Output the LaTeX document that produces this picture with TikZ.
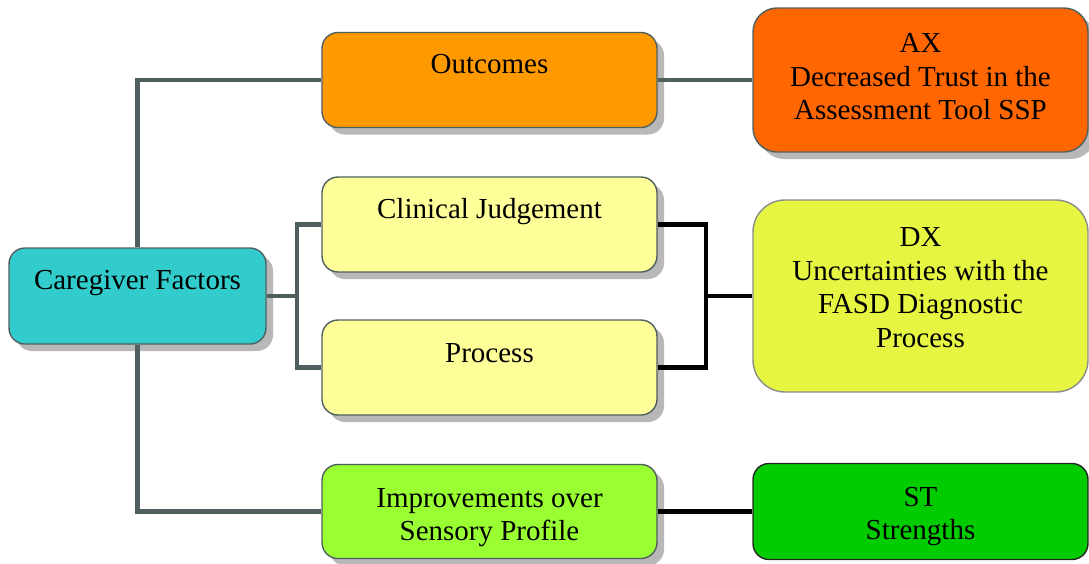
\documentclass[tikz,border=0pt]{standalone}
\usepackage{fontspec}
\setmainfont{Liberation Serif}
\usetikzlibrary{shadows}
\definecolor{linegrey}{HTML}{4F5F5F}
\definecolor{cteal}{HTML}{33CCCC}
\definecolor{corange}{HTML}{FF9900}
\definecolor{cdorange}{HTML}{FF6600}
\definecolor{cpale}{HTML}{FFFF99}
\definecolor{clime}{HTML}{E5F542}
\definecolor{cgreenl}{HTML}{99FF33}
\definecolor{cgreen}{HTML}{00CC00}
\tikzset{
  box/.style={rounded corners=16pt, draw=linegrey, line width=1.4pt, inner sep=0pt},
  shad/.style={drop shadow={shadow xshift=7pt, shadow yshift=-7pt, fill=black!28, opacity=1}},
  txt/.style={anchor=north, inner sep=0pt, align=center, font=\fontsize{29}{33.5}\selectfont},
  gconn/.style={draw=linegrey, line width=4.5pt},
  bconn/.style={draw=black, line width=4.5pt},
}
\begin{document}
\begin{tikzpicture}[x=1pt,y=-1pt]
\useasboundingbox (0,0) rectangle (1089,563);
\begin{scope}
\clip (0,0) rectangle (1089,563);
% boxes
\node[box, shad, fill=cteal, minimum width=257pt, minimum height=96pt] (cg) at (137.5,296) {};
\node[box, shad, fill=corange, minimum width=335pt, minimum height=95pt] (out) at (489.5,80) {};
\node[box, shad, fill=cpale, minimum width=335pt, minimum height=95pt] (clin) at (489.5,224.5) {};
\node[box, shad, fill=cpale, minimum width=335pt, minimum height=95pt] (proc) at (489.5,367.5) {};
\node[box, shad, fill=cgreenl, minimum width=335pt, minimum height=94pt] (imp) at (489.5,511.5) {};
\node[box, shad, fill=cdorange, rounded corners=24pt, minimum width=335pt, minimum height=144pt] (ax) at (920.5,80) {};
\node[box, fill=clime, draw=black!45, rounded corners=32pt, minimum width=335pt, minimum height=192pt] (dx) at (920.5,296) {};
\node[box, fill=cgreen, draw=black!85, minimum width=335pt, minimum height=96pt] (st) at (920.5,511.5) {};
% texts
\node[txt] (tcg) at (137.5,289-23.45) {\strut Caregiver Factors};
\node[txt] (tout) at (489.5,73-23.45) {\strut Outcomes};
\node[txt] (tclin) at (489.5,218-23.45) {\strut Clinical Judgement};
\node[txt] (tproc) at (489.5,362-23.45) {\strut Process};
\node[txt] (timp) at (489.5,507-23.45) {\strut Improvements over\\\strut Sensory Profile};
\node[txt] (tax) at (920.5,52.5-23.45) {\strut AX\\\strut Decreased Trust in the\\\strut Assessment Tool SSP};
\node[txt] (tdx) at (920.5,246.5-23.45) {\strut DX\\\strut Uncertainties with the\\\strut FASD Diagnostic\\\strut Process};
\node[txt] (tst) at (920.5,506-23.45) {\strut ST\\\strut Strengths};
% connector junctions
\coordinate (j1) at (297,296);
\coordinate (j2) at (706,296);
\end{scope}
% connectors
\path[gconn] (cg.north) |- (out.west);
\path[gconn] (cg.south) |- (imp.west);
\path[gconn] (cg.east) -- (j1);
\path[gconn] (clin.west) -| (j1) |- (proc.west);
\path[gconn] (out.east) -- (ax.west);
\path[bconn] (clin.east) -| (j2) |- (proc.east);
\path[bconn] (j2) -- (dx.west);
\path[bconn] (imp.east) -- (st.west);
\end{tikzpicture}
\end{document}
